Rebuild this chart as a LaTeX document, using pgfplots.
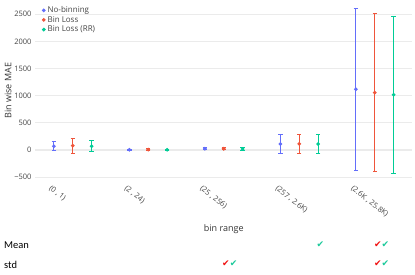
\documentclass[border=0pt]{standalone}
\usepackage{pgfplots}
\pgfplotsset{compat=1.18}
\usepackage{fontspec}
\setmainfont{Open Sans}
\newfontfamily\calib{Carlito}
\newfontfamily\symb{DejaVu Sans}
\definecolor{pblue}{HTML}{636EFA}
\definecolor{pred}{HTML}{EF553B}
\definecolor{pgreen}{HTML}{00CC96}
\definecolor{gridc}{HTML}{EBEBEB}
\definecolor{txt}{HTML}{444444}
\definecolor{chkred}{HTML}{F01010}
\definecolor{chkgreen}{HTML}{1BC99A}
\begin{document}
\begin{tikzpicture}
\useasboundingbox (0,0) rectangle (415pt,275pt);
\begin{axis}[
  at={(35pt,95.6pt)}, anchor=south west,
  scale only axis, width=377.5pt, height=177.1pt,
  xmin=-0.5, xmax=4.5, ymin=-540, ymax=2720,
  axis line style={draw=none},
  tick style={draw=none},
  clip=false,
  font=\fontsize{7.5}{8.5}\selectfont,
  /pgf/number format/assume math mode=true,
  /pgf/number format/1000 sep={},
  ytick={-500,0,500,1000,1500,2000,2500},
  yticklabels={\textminus500,0,500,1000,1500,2000,2500},
  ymajorgrids, major grid style={gridc, line width=0.8pt},
  xtick={0,1,2,3,4},
  xticklabels={{(0 , 1)},{(2 , 24)},{(25 , 256)},{(257 , 2.6K)},{(2.6K , 25.8K)}},
  xticklabel style={xshift=-21pt, yshift=-4pt, rotate=-38, anchor=north west, text=txt, inner sep=1pt},
  yticklabel style={text=txt},
  xlabel={bin range},
  xlabel style={at={(axis description cs:0.5,-0.28)}, anchor=center, text=black!80, font=\fontsize{9}{10}\selectfont},
  ylabel={Bin wise MAE},
  ylabel style={at={(axis description cs:-0.0715,0.5)}, anchor=center, text=black!80, font=\fontsize{9}{10}\selectfont},
  legend style={draw=none, fill=none, at={(axis description cs:0.01,1.0)}, anchor=north west,
    font=\fontsize{8}{9}\selectfont, text=txt, row sep=-1.8pt,
    legend cell align=left},
  legend image code/.code={\fill (0.12cm,0cm) circle (1.3pt);},
  every axis plot/.append style={only marks, mark=*, mark size=1.3pt, line width=1pt,
    error bars/error bar style={line width=1pt},
    error bars/error mark options={rotate=90, mark size=2.2pt, line width=1pt}},
]
\draw[gridc, line width=1.6pt] (axis cs:-0.5,0) -- (axis cs:4.5,0);
\addplot[color=pblue, error bars/.cd, y dir=both, y explicit] coordinates {
  (-0.25,70) +- (0,80)
  (0.75,5) +- (0,10)
  (1.75,24) +- (0,15)
  (2.75,113) +- (0,168)
  (3.75,1118) +- (0,1490)
};
\addlegendentry{No-binning}
\addplot[color=pred, error bars/.cd, y dir=both, y explicit] coordinates {
  (0,80) +- (0,135)
  (1,10) +- (0,15)
  (2,24) +- (0,20)
  (3,116) +- (0,178)
  (4,1056) +- (0,1450)
};
\addlegendentry{Bin Loss}
\addplot[color=pgreen, error bars/.cd, y dir=both, y explicit] coordinates {
  (0.25,70) +- (0,105)
  (1.25,5) +- (0,10)
  (2.25,20) +- (0,20)
  (3.25,110) +- (0,170)
  (4.25,1017) +- (0,1440)
};
\addlegendentry{Bin Loss (RR)}
\node[font=\symb\fontsize{9}{10}\selectfont, text=chkgreen] at (axis cs:3.28,-1747) {✔};
\node[font=\symb\fontsize{9}{10}\selectfont, inner sep=0pt] at (axis cs:4.09,-1747) {{\color{chkred}✔}{\color{chkgreen}✔}};
\node[font=\symb\fontsize{9}{10}\selectfont, inner sep=0pt] at (axis cs:2.08,-2097) {{\color{chkred}✔}{\color{chkgreen}✔}};
\node[font=\symb\fontsize{9}{10}\selectfont, inner sep=0pt] at (axis cs:4.09,-2097) {{\color{chkred}✔}{\color{chkgreen}✔}};
\end{axis}
\node[anchor=west, font=\calib\fontsize{10.5}{12}\selectfont, inner sep=0pt] at (4pt,30pt) {Mean};
\node[anchor=west, font=\calib\fontsize{10.5}{12}\selectfont, inner sep=0pt] at (4pt,10.5pt) {std};
\end{tikzpicture}
\end{document}
